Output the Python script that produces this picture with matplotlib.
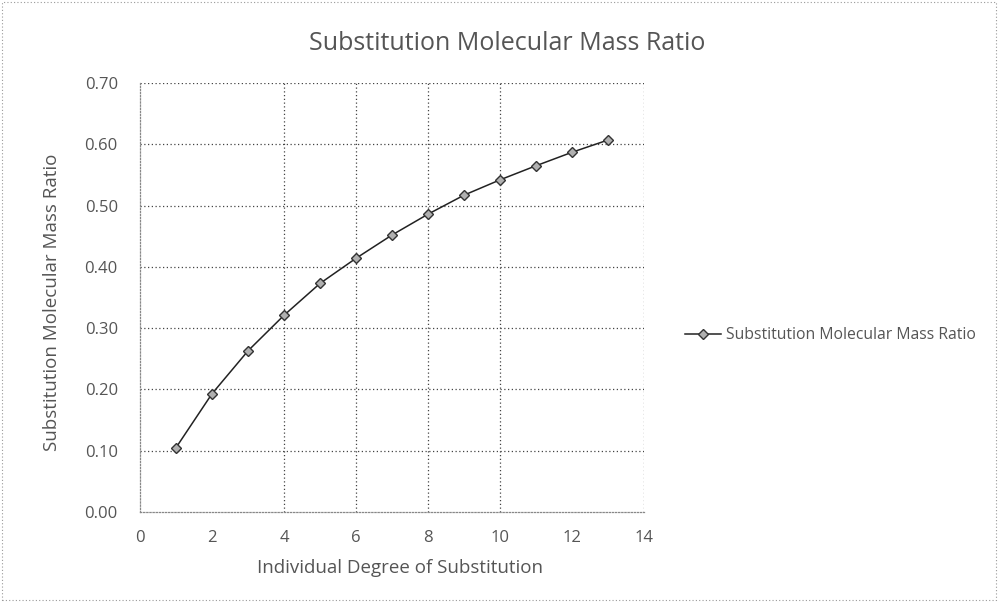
import matplotlib
matplotlib.use("Agg")
import matplotlib.pyplot as plt
from matplotlib.patches import Rectangle

degree = [1, 2, 3, 4, 5, 6, 7, 8, 9, 10, 11, 12, 13]
ratio = [0.105, 0.193, 0.263, 0.321, 0.373, 0.414, 0.452, 0.486, 0.517, 0.542, 0.565, 0.587, 0.607]
xticks = [0, 2, 4, 6, 8, 10, 12, 14]
yticks = [0.0, 0.1, 0.2, 0.3, 0.4, 0.5, 0.6, 0.7]
vgrid = [4, 6, 8, 10]
series_name = "Substitution Molecular Mass Ratio"

plt.rcParams['font.family'] = ['Open Sans', 'DejaVu Sans']
txt = '#555555'

fig = plt.figure(figsize=(9.98, 6.02), dpi=100)
fig.patches.append(Rectangle((0.002, 0.003), 0.996, 0.994, transform=fig.transFigure,
                             fill=False, edgecolor='#999999', linestyle=(0, (1, 2)), linewidth=0.8))
ax = fig.add_axes([0.1403, 0.1495, 0.505, 0.7126])

ax.set_xlim(0, 14)
ax.set_ylim(0, 0.7)
ax.set_xticks(xticks)
ax.set_yticks(yticks)
ax.set_yticklabels([f"{v:.2f}" for v in yticks])
ax.tick_params(length=0, labelsize=12, labelcolor=txt)
ax.tick_params(axis='y', pad=16)
ax.tick_params(axis='x', pad=13)

for y in yticks[1:]:
    ax.axhline(y, color='#444444', linestyle=(0, (1, 2)), linewidth=0.9, zorder=1)
for x in vgrid + [14]:
    ax.axvline(x, color='#444444', linestyle=(0, (1, 2)), linewidth=0.9, zorder=1)

for s in ['top', 'right']:
    ax.spines[s].set_visible(False)
for s in ['left', 'bottom']:
    ax.spines[s].set_color('#888888')
    ax.spines[s].set_linestyle((0, (1, 1.5)))
    ax.spines[s].set_linewidth(0.9)

ax.plot(degree, ratio, color='#222222', linewidth=1.1, marker='D', markersize=5,
        markerfacecolor='#b0b0b0', markeredgecolor='#333333', markeredgewidth=1.0,
        label=series_name, zorder=3)

fig.text(0.508, 0.928, "Substitution Molecular Mass Ratio", ha='center', va='center',
         fontsize=18, color=txt)
ax.set_xlabel("Individual Degree of Substitution", fontsize=13.5, color=txt)
ax.set_ylabel("Substitution Molecular Mass Ratio", fontsize=13.5, color=txt)
# label positions in axes coordinates
ax.xaxis.set_label_coords((400 - 140) / 504, -(568 - 512) / 429)
ax.yaxis.set_label_coords(-(140 - 52) / 504, (512 - 302) / 429)
ax.xaxis.label.set_va('center')
ax.yaxis.label.set_va('center')

leg = fig.legend(loc='center left', bbox_to_anchor=(0.672, 0.443), frameon=False,
                 fontsize=11.3, handlelength=2.3, handletextpad=0.3, labelcolor=txt)

fig.savefig("out.png", dpi=100)
